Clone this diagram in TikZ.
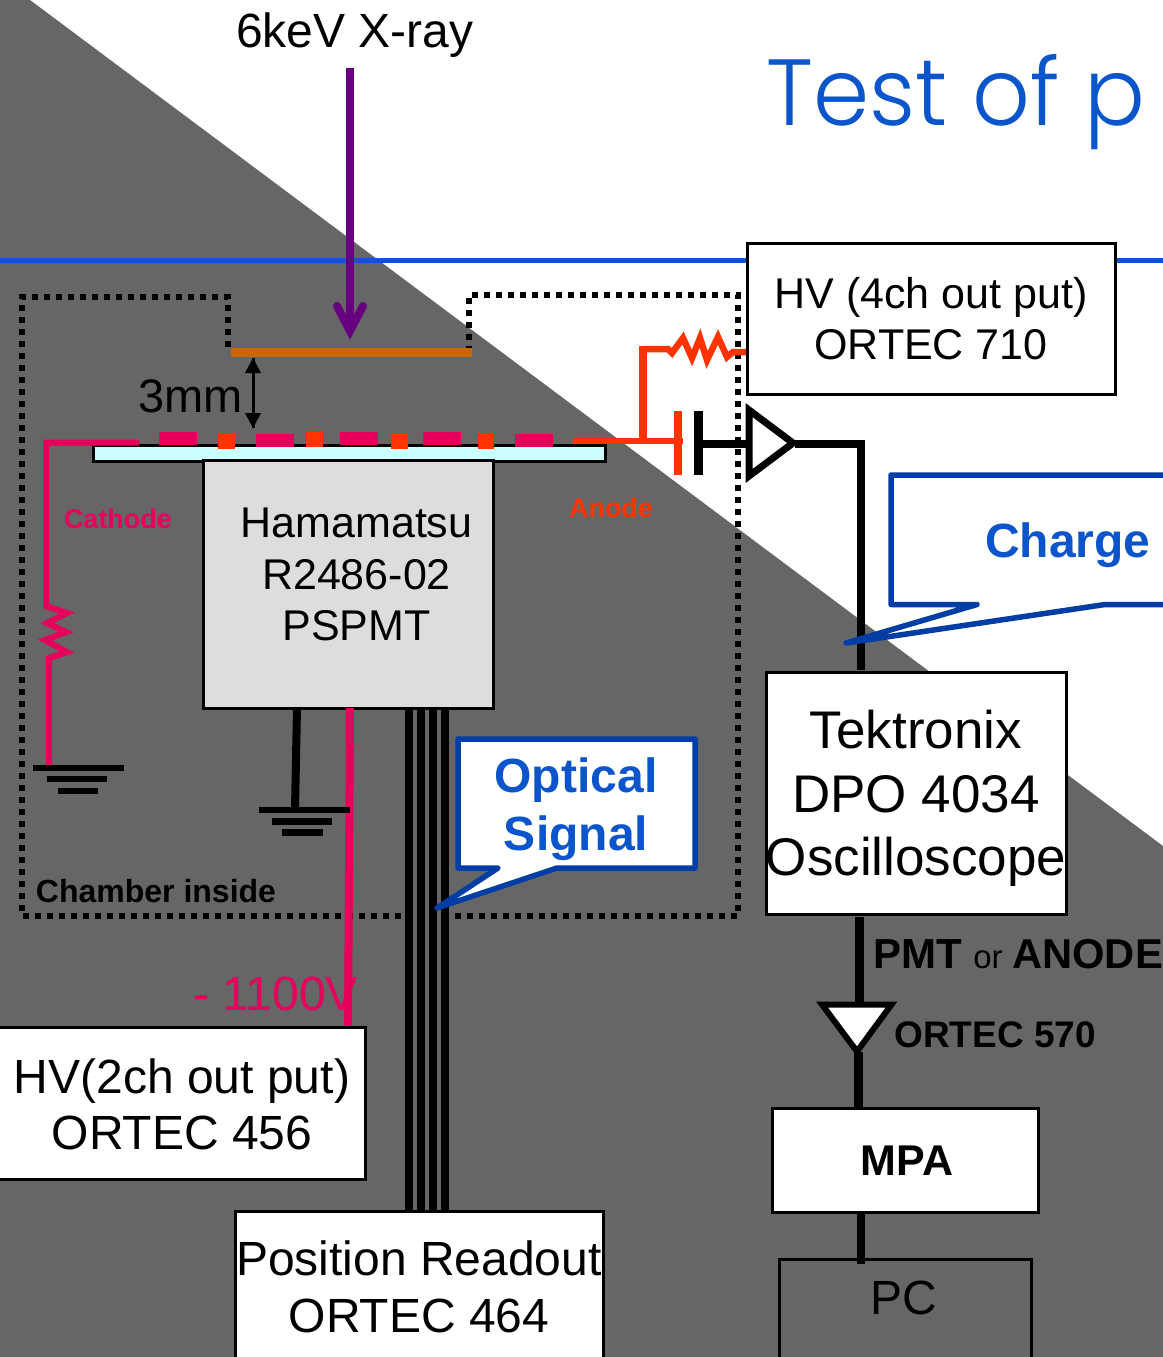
\documentclass[tikz,border=0pt]{standalone}
\usepackage{fontspec}
\setmainfont{Liberation Sans}
\newfontfamily\titlefont{Poppins}[UprightFont=* Light,FakeStretch=0.96]
\definecolor{bggray}{HTML}{666666}
\definecolor{cblue}{HTML}{003DA5}
\definecolor{lblue}{HTML}{0A55CC}
\definecolor{pink}{HTML}{E6005C}
\definecolor{orangered}{HTML}{FF3300}
\definecolor{brownish}{HTML}{CC6600}
\definecolor{purp}{HTML}{660080}
\definecolor{pmtgray}{HTML}{DDDDDD}
\definecolor{cyanish}{HTML}{CCFFFF}
\newcommand{\px}[1]{\fontsize{\dimexpr#1pt*3/4\relax}{\dimexpr#1pt*9/10\relax}\selectfont}
\tikzset{
  x=0.75pt,y=-0.75pt,
  wbox/.style={draw=black,line width=3*0.75pt,fill=white,align=center,inner sep=0pt,text=black,anchor=north west},
  lab/.style={inner sep=0pt,align=center,text=black},
  wire/.style={draw=black,line width=8*0.75pt},
  cwire/.style={draw=pink,line width=6*0.75pt},
  awire/.style={draw=orangered,line width=6.5*0.75pt},
  dotline/.style={draw=black,line width=6*0.75pt,dash pattern=on 6*0.75pt off 6*0.75pt},
  callout/.style={draw=cblue,line width=5.5*0.75pt,fill=white,line join=round},
}
\begin{document}
\begin{tikzpicture}
\useasboundingbox (0,0) rectangle (1163,1357);
\begin{scope}
\clip (0,0) rectangle (1163,1357);
\fill[white] (0,0) rectangle (1163,1357);
\fill[bggray] (30,0) -- (1163,846) -- (1163,1357) -- (0,1357) -- (0,0) -- cycle;
\node[lab,anchor=base west,text=lblue,font=\titlefont\px{94}] (title) at (766,125) {Test of p};
\coordinate (bl) at (0,260); \coordinate (br) at (1163,260);
\draw[draw=lblue,line width=5*0.75pt] (bl) -- (br);

% dotted chamber
\coordinate (d1) at (469,352); \coordinate (d2) at (469,295); \coordinate (d3) at (738,295);
\coordinate (d4) at (738,916); \coordinate (d5) at (22,916); \coordinate (d6) at (22,297);
\coordinate (d7) at (228,297); \coordinate (d8) at (228,350);
\draw[dotline] (d1) -- (d2) -- (d3) -- (d4) -- (d5) -- (d6) -- (d7) -- (d8);

% plate
\coordinate (pl) at (231,352); \coordinate (pr) at (472,352);
\draw[draw=brownish,line width=9*0.75pt] (pl) -- (pr);
% xray
\node[lab,font=\px{48}] (xray) at (355,35) {6keV X-ray};
\coordinate (xa) at (350,68); \coordinate (xb) at (350,331);
\draw[draw=purp,line width=8*0.75pt] (xa) -- (xb);
\coordinate (xh1) at (337,306); \coordinate (xh2) at (363,306);
\draw[draw=purp,line width=8*0.75pt,line cap=round,line join=miter] (xh1) -- (xb) -- (xh2);

% gap arrow
\coordinate (ga) at (253,358); \coordinate (gb) at (253,428);
\draw[line width=3*0.75pt,black] (ga) -- (gb);
\fill (253,358) -- (261,373) -- (245,373) -- cycle;
\fill (253,428) -- (261,413) -- (245,413) -- cycle;
\node[lab,font=\px{47}] (gap) at (190.5,396) {3mm};

% photocathode window
\node[draw=black,line width=3*0.75pt,fill=cyanish,minimum width=512*0.75pt,minimum height=16*0.75pt,inner sep=0pt,anchor=north west] (win) at (91.5,443.5) {};
% PMT
\node[wbox,fill=pmtgray,minimum width=290*0.75pt,minimum height=248*0.75pt] (pmt) at (201.5,458.5) {};
\node[lab,font=\px{43}] (pmtlab) at (356.5,579) {\strut Hamamatsu\\[0pt]\strut R2486-02\\[0pt]\strut PSPMT};

% anode/cathode strips
\fill[pink] (159,432) rectangle (197,445);
\fill[orangered] (218,433) rectangle (235,449);
\fill[pink] (256,434) rectangle (294,447);
\fill[orangered] (306,431) rectangle (323,447);
\fill[pink] (340,432) rectangle (378,445);
\fill[orangered] (391,433) rectangle (408,449);
\fill[pink] (423,432) rectangle (461,445);
\fill[orangered] (478,433) rectangle (494,449);
\fill[pink] (515,434) rectangle (553,447);

% cathode wiring
\coordinate (ca) at (139,442.5); \coordinate (cb) at (46,442.5); \coordinate (cc) at (46,606);
\coordinate (cd) at (49,658); \coordinate (ce) at (49,766);
\draw[cwire,line join=miter] (ca) -- (cb) -- (cc) -- (67,613) -- (47,623) -- (66,632) -- (45,640) -- (67,652) -- (cd) -- (ce);
\node[lab,font=\bfseries\px{27},text=pink] (cath) at (118,519) {Cathode};
% ground 1
\fill (33,765) rectangle (124,771);
\fill (47,776) rectangle (107,782);
\fill (58,788) rectangle (98,794);

% anode wiring
\coordinate (aa) at (573,441); \coordinate (ab) at (683,441);
\draw[awire] (aa) -- (ab);
\coordinate (a2) at (642.5,441); \coordinate (a3) at (642.5,349);
\draw[draw=orangered,line width=8*0.75pt] (a2) -- (642.5,346);
\draw[awire,line join=miter] (a3) -- (668,349) -- (672,353) -- (683,338) -- (692,358) -- (700,338) -- (707,360) -- (718,337) -- (727,357) -- (733,352) -- (747,352);
\draw[draw=orangered,line width=8*0.75pt] (678,411) -- (678,475);
\node[lab,font=\bfseries\px{27},text=orangered] (anode) at (611,508) {Anode};

% capacitor / amp
\draw[draw=black,line width=9*0.75pt] (698.5,411) -- (698.5,475);
\coordinate (c1) at (698,444); \coordinate (c2) at (748,444);
\draw[wire] (c1) -- (c2);
\draw[draw=black,line width=7*0.75pt,fill=white,line join=miter] (749,410) -- (793,443) -- (749,476) -- cycle;
\coordinate (am) at (795,444); \coordinate (an) at (860.5,444); \coordinate (ao) at (860.5,670);
\draw[wire,line join=miter] (am) -- (an) -- (ao);

% HV 710
\node[wbox,minimum width=368*0.75pt,minimum height=151*0.75pt] (hv4) at (746,241.5) {};
\node[lab,font=\px{43}] (hv4lab) at (931,318.5) {HV (4ch out put)\\[-0.5pt]ORTEC 710};

% Charge callout
\draw[callout] (1170,475) -- (891,475) -- (891,604.5) -- (977,604.5) -- (846,643) -- (1105,604.5) -- (1170,604.5);
\node[lab,font=\bfseries\px{48},text=lblue] (charge) at (1068,545) {Charge};

% Tektronix
\node[wbox,minimum width=300*0.75pt,minimum height=242*0.75pt] (tek) at (764.5,670.5) {};
\node[lab,font=\px{53}] (teklab) at (916,798.5) {Tektronix\\[0pt]DPO 4034\\[0pt]Oscilloscope};

% pink HV line
\coordinate (h1) at (350,708); \coordinate (h2) at (348,1028);
\draw[draw=pink,line width=8*0.75pt] (h1) -- (h2);
% ground 2
\coordinate (g2a) at (297,708); \coordinate (g2b) at (295,810);
\draw[wire] (g2a) -- (g2b);
\fill (259,807) rectangle (350,813);
\fill (272,818) rectangle (332,825);
\fill (282,829) rectangle (323,836);

% signal wires
\foreach \xx in {409,421,433,444.5}{
  \draw[draw=black,line width=8*0.75pt] (\xx,708) -- (\xx,1212);
}

% Optical callout
\draw[callout] (458,739) -- (695,739) -- (695,868) -- (557,868) -- (437,908) -- (498,868) -- (458,868) -- cycle;
\node[lab,font=\bfseries\px{48},text=lblue] (opt) at (576,809) {Optical\\[0pt]Signal};

\node[lab,font=\bfseries\px{32}] (chin) at (156,891) {Chamber inside};
\node[lab,font=\px{48},text=pink] (volt) at (275.5,993.5) {- 1100V};

% HV 456
\node[wbox,minimum width=379*0.75pt,minimum height=152*0.75pt] (hv2) at (-15,1026) {};
\node[lab,font=\px{48}] (hv2lab) at (182,1104.5) {HV(2ch out put)\\[-1pt]ORTEC 456};

% Position readout
\node[wbox,minimum width=368*0.75pt,minimum height=170*0.75pt] (pos) at (233.5,1209.5) {};
\node[lab,font=\px{48}] (poslab) at (419,1287) {Position Readout\\[-0.5pt]ORTEC 464};

% right lower chain
\coordinate (t1) at (859.5,917); \coordinate (t2) at (859.5,1005);
\draw[draw=black,line width=9*0.75pt] (t1) -- (t2);
\draw[draw=black,line width=6*0.75pt,fill=white,line join=miter] (822,1004.5) -- (891.5,1004.5) -- (857,1051.5) -- cycle;
\coordinate (t3) at (858.3,1052); \coordinate (t4) at (858.3,1108);
\draw[draw=black,line width=8.5*0.75pt] (t3) -- (t4);
\node[lab,anchor=base west,font=\bfseries\px{42}] (pmtor) at (873,968) {PMT};
\node[lab,anchor=base west,font=\px{33}] (orw) at (973,968) {or};
\node[lab,anchor=base west,font=\bfseries\px{41.7}] (anodew) at (1012,968) {ANODE};
\node[lab,anchor=base west,font=\bfseries\px{37}] (o570) at (894,1047) {ORTEC 570};

\node[wbox,minimum width=266*0.75pt,minimum height=104*0.75pt] (mpa) at (771,1106.5) {};
\node[lab,font=\bfseries\px{43}] (mpalab) at (907,1161) {MPA};
\node[draw=black,line width=3*0.75pt,fill=bggray,minimum width=252*0.75pt,minimum height=110*0.75pt,inner sep=0pt,anchor=north west] (pc) at (777.5,1258) {};
\draw[wire] (861,1212) -- (861,1264);
\node[lab,font=\px{48}] (pclab) at (904,1298) {PC};
\end{scope}
\end{tikzpicture}
\end{document}
